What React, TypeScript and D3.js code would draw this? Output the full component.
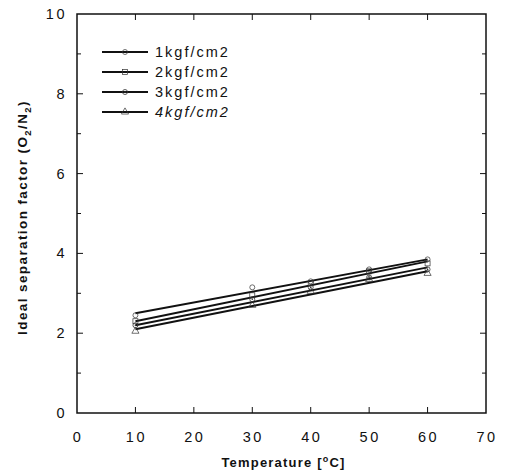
import React from "react";
import * as d3 from "d3";

const temps = [10, 30, 40, 50, 60];
const seriesNames = ["1kgf/cm2", "2kgf/cm2", "3kgf/cm2", "4kgf/cm2"];
const s1 = [2.45, 3.15, 3.3, 3.6, 3.85];
const s2 = [2.3, 2.95, 3.25, 3.55, 3.75];
const s3 = [2.2, 2.85, 3.15, 3.4, 3.6];
const s4 = [2.05, 2.7, 3.05, 3.35, 3.5];
const fitStart = [2.5, 2.3, 2.2, 2.1];
const fitEnd = [3.85, 3.8, 3.65, 3.55];
const xTicks = [0, 10, 20, 30, 40, 50, 60, 70];
const yTicks = [0, 2, 4, 6, 8, 10];
const yMinor = [1, 3, 5, 7, 9];

const W = 508, H = 475;
const L = 77, R = 486, T = 14, B = 413;

const x = d3.scaleLinear().domain([0, 70]).range([L, R]);
const y = d3.scaleLinear().domain([0, 10]).range([B, T]);

const font = "'Liberation Sans', Arial, Helvetica, sans-serif";

function Marker({ kind, cx, cy }: { kind: number; cx: number; cy: number }) {
  const c = "#333";
  if (kind === 0) return <circle cx={cx} cy={cy} r={2.5} fill="none" stroke={c} strokeWidth={0.7} />;
  if (kind === 1) return <rect x={cx - 2.5} y={cy - 2.5} width={5} height={5} fill="none" stroke={c} strokeWidth={0.7} />;
  if (kind === 2) return (
    <g>
      <circle cx={cx} cy={cy} r={2.5} fill="none" stroke={c} strokeWidth={0.8} />
      <circle cx={cx} cy={cy} r={0.8} fill={c} />
    </g>
  );
  const p = d3.symbol(d3.symbolTriangle, 22)();
  return <path d={p || ""} transform={`translate(${cx},${cy})`} fill="none" stroke={c} strokeWidth={0.7} />;
}

export default function App() {
  const all = [s1, s2, s3, s4];
  const line = d3.line<[number, number]>().x((d) => x(d[0])).y((d) => y(d[1]));
  return (
    <svg width={W} height={H} style={{ position: "absolute", left: 0, top: 0, background: "#fff" }} fontFamily={font}>
      <rect x={0} y={0} width={W} height={H} fill="#fff" />
      <rect x={L} y={T} width={R - L} height={B - T} fill="none" stroke="#111" strokeWidth={1.5} />
      {yTicks.map((v) => (
        <g key={"y" + v}>
          {v > 0 && v < 10 && <line x1={L} x2={L + 6} y1={y(v)} y2={y(v)} stroke="#111" strokeWidth={1} />}
          {v > 0 && v < 10 && <line x1={R} x2={R - 6} y1={y(v)} y2={y(v)} stroke="#111" strokeWidth={1} />}
          <text x={L - 10} y={y(v)} dy="0.35em" textAnchor="end" fontSize={14.5} letterSpacing={2.5} fill="#111">{v}</text>
        </g>
      ))}
      {yMinor.map((v) => (
        <g key={"ym" + v}>
          <line x1={L} x2={L + 4} y1={y(v)} y2={y(v)} stroke="#111" strokeWidth={1} />
          <line x1={R} x2={R - 4} y1={y(v)} y2={y(v)} stroke="#111" strokeWidth={1} />
        </g>
      ))}
      {xTicks.map((v) => (
        <g key={"x" + v}>
          {v > 0 && v < 70 && <line x1={x(v)} x2={x(v)} y1={B} y2={B - 6} stroke="#111" strokeWidth={1} />}
          {v > 0 && v < 70 && <line x1={x(v)} x2={x(v)} y1={T} y2={T + 6} stroke="#111" strokeWidth={1} />}
          <text x={x(v) + 1} y={B + 29} textAnchor="middle" fontSize={14.5} letterSpacing={2.5} fill="#111">{v}</text>
        </g>
      ))}
      <text x={(L + R) / 2 + 2} y={467} textAnchor="middle" fontSize={13} fontWeight="bold" letterSpacing={1.2} fill="#111">
        Temperature [<tspan dy={-5} fontSize={9}>o</tspan><tspan dy={5}>C]</tspan>
      </text>
      <text transform={`translate(27,${(T + B) / 2 + 4}) rotate(-90)`} textAnchor="middle" fontSize={13.5} fontWeight="bold" letterSpacing={1.4} fill="#111">
        Ideal separation factor (O<tspan dy={4} fontSize={9.5}>2</tspan><tspan dy={-4}>/N</tspan><tspan dy={4} fontSize={9.5}>2</tspan><tspan dy={-4}>)</tspan>
      </text>
      {fitStart.map((s, i) => (
        <path key={"f" + i} d={line([[10, s], [60, fitEnd[i]]]) || ""} stroke="#111" strokeWidth={2} fill="none" />
      ))}
      {all.map((ser, i) =>
        ser.map((v, j) => <Marker key={`m${i}-${j}`} kind={i} cx={x(temps[j])} cy={y(v)} />)
      )}
      {seriesNames.map((n, i) => {
        const ly = 52 + i * 20;
        return (
          <g key={"l" + i}>
            <line x1={102} x2={148} y1={ly} y2={ly} stroke="#111" strokeWidth={1.8} />
            <Marker kind={i} cx={125} cy={ly} />
            <text x={155} y={ly} dy="0.35em" fontSize={14.5} letterSpacing={2} fontStyle={i === 3 ? "italic" : "normal"} fill="#111">{n}</text>
          </g>
        );
      })}
    </svg>
  );
}
